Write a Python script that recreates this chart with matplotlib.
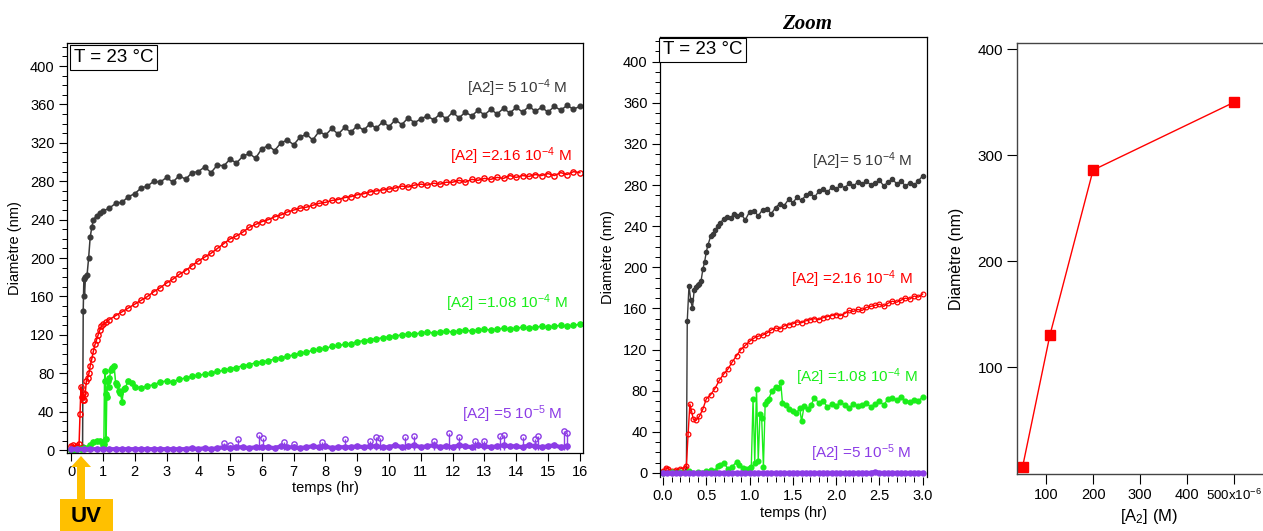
import matplotlib
matplotlib.use("Agg")
import matplotlib.pyplot as plt
from matplotlib.patches import Rectangle, Polygon
from matplotlib.ticker import MultipleLocator, FixedLocator, FormatStrFormatter

plt.rcParams['font.family'] = ['Liberation Sans', 'DejaVu Sans']
plt.rcParams['mathtext.fontset'] = 'custom'
plt.rcParams['mathtext.rm'] = 'Liberation Sans'
plt.rcParams['mathtext.it'] = 'Liberation Sans:italic'
plt.rcParams['mathtext.bf'] = 'Liberation Sans:bold'

# ---------------- data: left panel (0-16 h) ----------------
T_LATE = [1.2, 1.4, 1.6, 1.8, 2.0, 2.2, 2.4, 2.6, 2.8, 3.0,
          3.2, 3.4, 3.6, 3.8, 4.0, 4.2, 4.4, 4.6, 4.8, 5.0,
          5.2, 5.4, 5.6, 5.8, 6.0, 6.2, 6.4, 6.6, 6.8, 7.0,
          7.2, 7.4, 7.6, 7.8, 8.0, 8.2, 8.4, 8.6, 8.8, 9.0,
          9.2, 9.4, 9.6, 9.8, 10.0, 10.2, 10.4, 10.6, 10.8, 11.0,
          11.2, 11.4, 11.6, 11.8, 12.0, 12.2, 12.4, 12.6, 12.8, 13.0,
          13.2, 13.4, 13.6, 13.8, 14.0, 14.2, 14.4, 14.6, 14.8, 15.0,
          15.2, 15.4, 15.6, 15.8, 16.0]

BLACK_EARLY_T = [0.0, 0.1, 0.2, 0.3, 0.36, 0.38, 0.4, 0.42, 0.45, 0.5, 0.55, 0.6, 0.65, 0.7, 0.8, 0.9, 1.0]
BLACK_EARLY_V = [1, 2, 1, 2, 3, 145, 178, 160, 180, 182, 200, 222, 232, 240, 244, 247, 249]
BLACK_LATE_V = [252, 257, 258, 264, 267, 273, 275, 280, 279, 284,
                279, 286, 282, 289, 290, 295, 289, 297, 296, 303,
                299, 306, 309, 304, 314, 317, 312, 320, 323, 318,
                326, 329, 323, 332, 328, 335, 329, 336, 331, 338,
                333, 340, 335, 342, 337, 344, 339, 346, 341, 345,
                348, 344, 350, 345, 352, 346, 352, 348, 354, 349,
                355, 350, 356, 351, 357, 352, 358, 353, 357, 352,
                358, 354, 359, 355, 358]

RED_EARLY_T = [0.0, 0.05, 0.1, 0.15, 0.2, 0.25, 0.28, 0.31, 0.34, 0.36, 0.38, 0.41, 0.44, 0.48,
               0.52, 0.56, 0.6, 0.65, 0.7, 0.75, 0.8, 0.85, 0.9, 0.95, 1.0, 1.1]
RED_EARLY_V = [4, 5, 2, 3, 4, 6, 38, 66, 55, 52, 60, 52, 58, 72,
               75, 80, 88, 95, 103, 110, 115, 120, 125, 129, 131, 133]
RED_LATE_V = [136, 140, 144, 148, 152, 156, 160, 165, 169, 174,
              178, 183, 187, 192, 197, 201, 205, 210, 215, 220,
              223, 227, 232, 235, 238, 240, 243, 245, 248, 250,
              252, 253, 255, 257, 258, 260, 261, 263, 264, 266,
              267, 269, 270, 271, 272, 273, 275, 274, 276, 277,
              276, 278, 277, 279, 279, 281, 279, 282, 281, 283,
              282, 284, 283, 286, 284, 286, 285, 287, 286, 288,
              286, 289, 287, 290, 289]

GREEN_EARLY_T = [0.0, 0.1, 0.2, 0.3, 0.4, 0.5, 0.6, 0.7, 0.8, 0.9, 1.0, 1.03, 1.05, 1.07, 1.09,
                 1.1, 1.12, 1.15, 1.18, 1.2, 1.25, 1.3, 1.35, 1.4, 1.45, 1.5, 1.55, 1.6, 1.65,
                 1.7, 1.8, 1.9, 2.0]
GREEN_EARLY_V = [0, 0, 1, 1, 2, 2, 5, 8, 10, 9, 5, 6, 72, 82, 58,
                 12, 55, 72, 66, 75, 83, 86, 88, 70, 68, 62, 60, 50, 64,
                 65, 72, 70, 66]
GREEN_LATE_V = [65, 67, 68, 71, 72, 71, 74, 75, 77, 78,
                79, 80, 82, 83, 85, 86, 88, 89, 91, 92,
                93, 95, 96, 98, 99, 101, 102, 104, 105, 106,
                108, 109, 110, 111, 113, 114, 115, 116, 117, 118,
                119, 120, 121, 121, 122, 123, 122, 123, 124, 123,
                124, 125, 124, 125, 126, 125, 126, 127, 126, 127,
                128, 127, 128, 129, 128, 129, 130, 129, 130, 131]

PURPLE_T = [0.0, 0.2, 0.4, 0.6, 0.8, 1.0, 1.2, 1.4, 1.6, 1.8,
            2.0, 2.2, 2.4, 2.6, 2.8, 3.0, 3.2, 3.4, 3.6, 3.8,
            4.0, 4.2, 4.4, 4.6, 4.8, 5.0, 5.2, 5.4, 5.6, 5.8,
            6.0, 6.2, 6.4, 6.6, 6.8, 7.0, 7.2, 7.4, 7.6, 7.8,
            8.0, 8.2, 8.4, 8.6, 8.8, 9.0, 9.2, 9.4, 9.6, 9.8,
            10.0, 10.2, 10.4, 10.6, 10.8, 11.0, 11.2, 11.4, 11.6, 11.8,
            12.0, 12.2, 12.4, 12.6, 12.8, 13.0, 13.2, 13.4, 13.6, 13.8,
            14.0, 14.2, 14.4, 14.6, 14.8, 15.0, 15.2, 15.4, 15.6]
PURPLE_V = [1, 1, 1, 1, 1, 1, 1, 1, 1, 1,
            1, 1, 1, 1, 1, 1, 1, 1, 1, 2,
            1, 2, 1, 2, 3, 2, 3, 3, 2, 3,
            3, 3, 2, 4, 3, 3, 2, 3, 4, 3,
            4, 2, 3, 3, 3, 4, 3, 4, 4, 3,
            3, 5, 3, 4, 5, 3, 4, 5, 3, 4,
            3, 5, 4, 3, 5, 4, 3, 4, 5, 4,
            4, 3, 5, 4, 3, 4, 5, 3, 4]
PURPLE_SPIKE_T = [4.8, 5.0, 5.25, 5.9, 6.05, 6.7, 7.0, 7.9, 8.6, 9.4, 9.6, 9.7, 10.5,
                  10.8, 11.4, 11.9, 12.2, 12.7, 13.0, 13.5, 13.6, 14.2, 14.6, 14.7, 15.5, 15.6]
PURPLE_SPIKE_V = [7, 5, 12, 16, 13, 8, 6, 8, 12, 9, 14, 13, 14,
                  15, 9, 18, 14, 9, 10, 15, 16, 14, 12, 15, 20, 18]

# ---------------- data: zoom panel (0-3 h) ----------------
ZB_T = [0.0, 0.05, 0.1, 0.15, 0.2, 0.25, 0.27, 0.28, 0.3, 0.32,
        0.34, 0.36, 0.38, 0.4, 0.42, 0.44, 0.46, 0.48, 0.5, 0.52,
        0.55, 0.58, 0.6, 0.63, 0.66, 0.7, 0.74, 0.78, 0.82, 0.86,
        0.9, 0.95, 1.0, 1.05, 1.1, 1.15, 1.2, 1.25, 1.3, 1.35,
        1.4, 1.45, 1.5, 1.55, 1.6, 1.65, 1.7, 1.75, 1.8, 1.85,
        1.9, 1.95, 2.0, 2.05, 2.1, 2.15, 2.2, 2.25, 2.3, 2.35,
        2.4, 2.45, 2.5, 2.55, 2.6, 2.65, 2.7, 2.75, 2.8, 2.85,
        2.9, 2.95, 3.0]
ZB_V = [0, 1, 0, 1, 0, 1, 2, 148, 182, 168,
        160, 178, 181, 183, 184, 187, 198, 205, 215, 222,
        230, 232, 236, 240, 243, 247, 249, 248, 252, 250,
        252, 246, 254, 255, 250, 256, 257, 252, 258, 262,
        260, 266, 263, 268, 265, 270, 272, 268, 274, 276,
        273, 278, 276, 280, 277, 282, 279, 283, 281, 284,
        280, 282, 285, 279, 283, 286, 281, 284, 279, 282,
        280, 284, 289]

ZR_T = [0.0, 0.03, 0.06, 0.1, 0.15, 0.2, 0.25, 0.27, 0.29, 0.31,
        0.33, 0.35, 0.38, 0.42, 0.46, 0.5, 0.55, 0.6, 0.65, 0.7,
        0.75, 0.8, 0.85, 0.9, 0.95, 1.0, 1.05, 1.1, 1.15, 1.2,
        1.25, 1.3, 1.35, 1.4, 1.45, 1.5, 1.55, 1.6, 1.65, 1.7,
        1.75, 1.8, 1.85, 1.9, 1.95, 2.0, 2.05, 2.1, 2.15, 2.2,
        2.25, 2.3, 2.35, 2.4, 2.45, 2.5, 2.55, 2.6, 2.65, 2.7,
        2.75, 2.8, 2.85, 2.9, 2.95, 3.0]
ZR_V = [2, 5, 4, 2, 3, 4, 5, 7, 38, 67,
        60, 52, 51, 55, 62, 72, 76, 82, 90, 96,
        101, 108, 114, 120, 124, 128, 131, 133, 134, 136,
        139, 141, 140, 143, 144, 145, 147, 146, 148, 149,
        150, 149, 151, 152, 153, 154, 153, 155, 158, 157,
        159, 158, 161, 162, 163, 164, 162, 165, 167, 166,
        168, 170, 169, 172, 171, 174]

ZG_T = [0.0, 0.1, 0.2, 0.3, 0.4, 0.5, 0.55, 0.6, 0.63, 0.66,
        0.7, 0.75, 0.8, 0.85, 0.88, 0.92, 0.96, 1.0, 1.02, 1.04,
        1.06, 1.08, 1.1, 1.12, 1.14, 1.16, 1.18, 1.2, 1.22, 1.26,
        1.3, 1.33, 1.36, 1.38, 1.42, 1.46, 1.5, 1.54, 1.58, 1.6,
        1.63, 1.67, 1.71, 1.75, 1.8, 1.85, 1.9, 1.95, 2.0, 2.05,
        2.1, 2.15, 2.2, 2.25, 2.3, 2.35, 2.4, 2.45, 2.5, 2.55,
        2.6, 2.65, 2.7, 2.75, 2.8, 2.85, 2.9, 2.95, 3.0]
ZG_V = [0, 1, 1, 2, 1, 2, 3, 2, 7, 8,
        10, 4, 6, 11, 8, 5, 4, 5, 6, 72,
        10, 82, 12, 57, 53, 6, 67, 70, 72, 80,
        84, 83, 88, 68, 66, 62, 60, 58, 63, 50,
        65, 62, 66, 73, 68, 70, 64, 67, 65, 69,
        66, 63, 67, 65, 66, 68, 64, 67, 70, 66,
        72, 73, 71, 74, 70, 69, 71, 70, 74]

ZP_T = [0.0, 0.05, 0.1, 0.15, 0.2, 0.25, 0.3, 0.35, 0.4, 0.45,
        0.5, 0.55, 0.6, 0.65, 0.7, 0.75, 0.8, 0.85, 0.9, 0.95,
        1.0, 1.05, 1.1, 1.15, 1.2, 1.25, 1.3, 1.35, 1.4, 1.45,
        1.5, 1.55, 1.6, 1.65, 1.7, 1.75, 1.8, 1.85, 1.9, 1.95,
        2.0, 2.05, 2.1, 2.15, 2.2, 2.25, 2.3, 2.35, 2.4, 2.45,
        2.5, 2.55, 2.6, 2.65, 2.7, 2.75, 2.8, 2.85, 2.9, 2.95, 3.0]
ZP_V = [0, 0, 0, 0, 0, 0, 0, 0, 0, 0,
        0, 0, 0, 0, 0, 0, 0, 0, 0, 0,
        0, 0, 0, 0, 0, 0, 0, 0, 0, 0,
        0, 0, 0, 0, 0, 0, 0, 0, 0, 0,
        0, 0, 0, 0, 0, 0, 0, 0, 0, 1,
        0, 0, 0, 0, 0, 0, 0, 0, 0, 0, 0]

# ---------------- data: right panel ----------------
CONC_UM = [50, 108, 200, 500]       # x 10^-6 M
DIAM = [6, 130, 286, 350]
CONC_TICKS = [100, 200, 300, 400, 500]
CONC_TICKLABELS = ['100', '200', '300', '400', '500x10$^{-6}$']

LABELS = ['[A2]= 5 10$^{-4}$ M', '[A2] =2.16 10$^{-4}$ M',
          '[A2] =1.08 10$^{-4}$ M', '[A2] =5 10$^{-5}$ M']

BLACK = '#3a3a3a'
RED = '#ff0000'
GREEN = '#1aee1a'
PURPLE = '#8c3ce6'
GOLD = '#ffc000'

W, H = 1263, 531
fig = plt.figure(figsize=(W / 100, H / 100), dpi=100)


def px_rect(x0, y0, x1, y1):
    return [x0 / W, 1 - y1 / H, (x1 - x0) / W, (y1 - y0) / H]


def style_ticks(ax, size=10.5):
    ax.tick_params(which='major', direction='out', length=6, width=0.8, labelsize=size, pad=3)
    ax.tick_params(which='minor', direction='out', length=3.5, width=0.7)


# ---------------- left panel ----------------
ax1 = fig.add_axes(px_rect(67, 43, 583, 453))
ax1.plot(BLACK_EARLY_T + T_LATE, BLACK_EARLY_V + BLACK_LATE_V, '-o', color=BLACK, lw=1.1, ms=3.4)
ax1.plot(RED_EARLY_T + T_LATE, RED_EARLY_V + RED_LATE_V, '-o', color=RED, lw=1.1, ms=3.8,
         mfc='none', mew=1.0)
ax1.plot(GREEN_EARLY_T + T_LATE[5:], GREEN_EARLY_V + GREEN_LATE_V, '-o', color=GREEN, lw=1.1, ms=3.8)
ax1.vlines(PURPLE_SPIKE_T, 0, PURPLE_SPIKE_V, color=PURPLE, lw=1.0)
ax1.plot(PURPLE_SPIKE_T, PURPLE_SPIKE_V, 'o', color=PURPLE, ms=3.8, mfc='none', mew=1.0)
ax1.plot(PURPLE_T, PURPLE_V, '-o', color=PURPLE, lw=3.0, ms=3.8)
ax1.set_xlim(-0.13, 16.1)
ax1.set_ylim(-3, 424)
ax1.xaxis.set_major_locator(MultipleLocator(1))
ax1.yaxis.set_major_locator(MultipleLocator(40))
ax1.yaxis.set_minor_locator(MultipleLocator(10))
style_ticks(ax1)
ax1.set_xlabel('temps (hr)', fontsize=10.5, labelpad=1)
ax1.set_ylabel('Diamètre (nm)', fontsize=10.5, labelpad=6)
ax1.text(0.013, 0.985, 'T = 23 °C', transform=ax1.transAxes, fontsize=13.5, ha='left', va='top',
         bbox=dict(boxstyle='square,pad=0.2', fc='white', ec='black', lw=0.8))
lab_cols = [BLACK, RED, GREEN, PURPLE]
lab_pos1 = [(15.6, 377), (15.75, 306), (15.6, 153), (15.45, 37)]
for txt, c, (x, y) in zip(LABELS, lab_cols, lab_pos1):
    ax1.text(x, y, txt, color=c, fontsize=11, ha='right', va='center')
for s in ax1.spines.values():
    s.set_linewidth(0.9)

# ---------------- zoom panel ----------------
ax2 = fig.add_axes(px_rect(660, 37, 927, 477))
ax2.plot(ZB_T, ZB_V, '-o', color=BLACK, lw=1.0, ms=3.0)
ax2.plot(ZR_T, ZR_V, '-o', color=RED, lw=1.0, ms=3.4, mfc='none', mew=0.9)
ax2.plot(ZG_T, ZG_V, '-o', color=GREEN, lw=1.0, ms=3.4)
ax2.plot(ZP_T, ZP_V, '-o', color=PURPLE, lw=3.0, ms=3.6)
ax2.set_xlim(-0.035, 3.05)
ax2.set_ylim(-4, 424)
ax2.xaxis.set_major_locator(MultipleLocator(0.5))
ax2.xaxis.set_minor_locator(MultipleLocator(0.1))
ax2.xaxis.set_major_formatter(FormatStrFormatter('%.1f'))
ax2.yaxis.set_major_locator(MultipleLocator(40))
ax2.yaxis.set_minor_locator(MultipleLocator(10))
style_ticks(ax2)
ax2.spines['bottom'].set_visible(False)
ax2.set_xlabel('temps (hr)', fontsize=10.5, labelpad=2)
ax2.set_ylabel('Diamètre (nm)', fontsize=10.5, labelpad=6)
ax2.text(0.01, 0.99, 'T = 23 °C', transform=ax2.transAxes, fontsize=13.5, ha='left', va='top',
         bbox=dict(boxstyle='square,pad=0.2', fc='white', ec='black', lw=0.8))
lab_pos2 = [(2.88, 303), (2.88, 188), (2.94, 93), (2.87, 19)]
for txt, c, (x, y) in zip(LABELS, lab_cols, lab_pos2):
    ax2.text(x, y, txt, color=c, fontsize=11, ha='right', va='center')
for s in ax2.spines.values():
    s.set_linewidth(0.9)
fig.text(807 / W, 1 - 24 / H, 'Zoom', fontfamily='Liberation Serif', fontweight='bold',
         fontstyle='italic', fontsize=15, ha='center', va='center')

# ---------------- right panel ----------------
ax3 = fig.add_axes(px_rect(1017, 43, 1280, 474))
ax3.plot(CONC_UM, DIAM, '-s', color=RED, lw=1.0, ms=7)
ax3.set_xlim(38, 598)
ax3.set_ylim(-1, 406)
ax3.xaxis.set_major_locator(FixedLocator(CONC_TICKS))
ax3.set_xticklabels(CONC_TICKLABELS)
ax3.yaxis.set_major_locator(FixedLocator([100, 200, 300, 400]))
ax3.tick_params(axis='y', which='major', direction='out', length=7, width=0.8, labelsize=11, pad=3)
ax3.tick_params(axis='x', which='major', direction='out', length=7, width=0.8, labelsize=10.5, pad=3)
for lbl in ax3.get_xticklabels():
    if lbl.get_text().startswith('500'):
        lbl.set_fontsize(9.5)
ax3.set_xlabel('[A$_2$] (M)', fontsize=12, labelpad=3)
ax3.set_ylabel('Diamètre (nm)', fontsize=11.5, labelpad=10)
for s in ax3.spines.values():
    s.set_linewidth(1.0)
    s.set_color('#444444')

# ---------------- UV arrow ----------------
fig.patches.append(Rectangle((60 / W, 0), 53 / W, (531 - 499) / H, transform=fig.transFigure,
                             facecolor=GOLD, edgecolor='none'))
arrow_px = [(77, 499), (77, 467), (71, 467), (81, 456), (91, 467), (85, 467), (85, 499)]
fig.patches.append(Polygon([(x / W, 1 - y / H) for x, y in arrow_px], closed=True,
                           transform=fig.transFigure, facecolor=GOLD, edgecolor='none'))
fig.text(86.5 / W, 1 - 517 / H, 'UV', fontsize=16, fontweight='bold', ha='center', va='center')

fig.savefig('out.png', dpi=100)
